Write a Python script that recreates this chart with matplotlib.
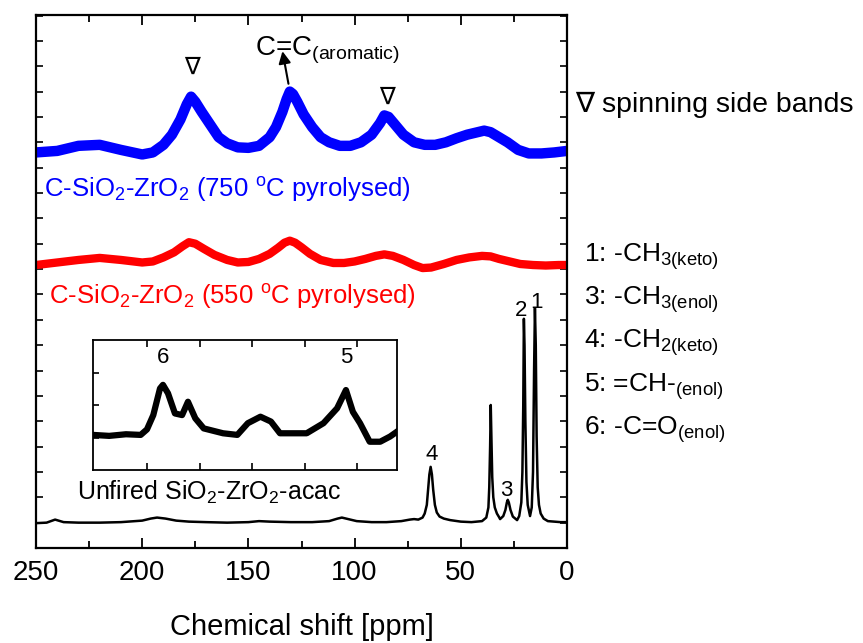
import numpy as np
import matplotlib.pyplot as plt

plt.rcParams['font.family'] = ['Liberation Sans', 'DejaVu Sans']
plt.rcParams['mathtext.fontset'] = 'custom'
plt.rcParams['mathtext.rm'] = 'Liberation Sans'
plt.rcParams['mathtext.it'] = 'Liberation Sans:italic'

# C-SiO2-ZrO2 pyrolysed at 750 C (blue), offset spectrum
ppm_750 = [250, 240, 230, 220, 210, 200, 195, 190, 186, 182, 179, 177, 175, 172, 168, 164,
           160, 155, 150, 145, 140, 137, 134, 132, 130.5, 129, 127, 124, 120, 116, 112, 107,
           102, 97, 92, 88, 86, 84, 81, 77, 72, 67, 62, 57, 52, 47, 42, 39, 36, 32, 28, 23,
           18, 12, 6, 0]
int_750 = [78.0, 78.3, 79.3, 79.5, 78.5, 77.6, 78.0, 79.5, 81.5, 84.5, 87.5, 89.0, 88.0, 86.0,
           83.5, 81.0, 79.8, 79.0, 78.9, 79.3, 81.0, 83.0, 86.0, 88.5, 90.0, 89.5, 88.0, 85.5,
           83.0, 81.0, 80.0, 79.3, 79.3, 80.0, 81.5, 83.8, 85.3, 85.0, 83.5, 81.5, 80.0, 79.5,
           79.5, 80.0, 80.8, 81.5, 82.0, 82.3, 82.0, 81.0, 80.0, 78.5, 77.8, 77.8, 78.0, 78.3]

# pyrolysed at 550 C (red)
ppm_550 = [250, 240, 230, 220, 210, 200, 195, 190, 185, 181, 178, 175, 171, 166, 160, 155,
           150, 145, 140, 136, 133, 130.5, 128, 125, 121, 116, 110, 105, 100, 95, 90, 86, 82,
           77, 72, 68, 64, 58, 52, 46, 40, 36, 32, 27, 22, 16, 10, 4, 0]
int_550 = [55.8, 56.3, 56.8, 57.2, 56.8, 56.3, 56.5, 57.3, 58.3, 59.5, 60.3, 60.0, 59.0, 57.8,
           56.8, 56.3, 56.4, 57.0, 58.0, 59.2, 60.2, 60.6, 60.2, 59.3, 58.0, 56.8, 56.2, 56.2,
           56.5, 57.0, 57.6, 57.9, 57.6, 56.8, 55.8, 55.2, 55.3, 56.0, 56.8, 57.3, 57.6, 57.5,
           57.0, 56.5, 56.0, 55.8, 55.7, 55.8, 55.8]

# unfired SiO2-ZrO2-acac (black)
ppm_raw = [250, 245, 241, 237, 230, 220, 210, 200, 196, 193, 189, 184, 178, 170, 160, 150,
           145, 140, 130, 120, 112, 108, 106, 103, 99, 92, 85, 78, 74, 72, 70, 68, 67, 66,
           65.5, 64.8, 64.2, 63.6, 63.0, 62.2, 61.3, 60, 58, 55, 50, 45, 40, 38, 37, 36.6,
           36.2, 35.9, 35.6, 35.2, 34.7, 34, 33, 32, 31.5, 30, 29, 28.3, 27.9, 27.4, 26.6,
           25.5, 23.5, 22.5, 21.5, 21, 20.6, 20.3, 20, 19.6, 19.1, 18.5, 17.4, 16.6, 16, 15.5,
           15.1, 14.7, 14.3, 13.8, 13.2, 12.4, 11, 9, 6, 3, 0]
int_raw = [4.9, 5.0, 5.6, 5.1, 5.0, 5.0, 5.1, 5.4, 5.8, 6.0, 5.8, 5.4, 5.2, 5.1, 5.0, 5.1,
           5.3, 5.2, 5.1, 5.1, 5.3, 5.8, 6.0, 5.7, 5.3, 5.1, 5.1, 5.3, 5.6, 5.7, 5.6, 6.0, 6.8,
           8.5, 11.0, 14.5, 16.0, 14.5, 11.5, 8.5, 7.0, 6.2, 5.8, 5.5, 5.2, 5.1, 5.3, 6.0,
           8.0, 12.0, 20.0, 28.2, 22.0, 14.0, 10.0, 8.0, 6.8, 6.1, 5.7, 6.3, 7.5, 9.0, 9.5,
           9.0, 7.5, 6.2, 5.5, 6.3, 9.0, 15.0, 28.0, 45.2, 40.0, 25.0, 13.0, 8.5, 6.3, 8.0,
           15.0, 35.0, 47.3, 40.0, 22.0, 12.0, 8.5, 6.8, 5.8, 5.3, 5.2, 5.1, 5.1]

# inset: enlarged 225-81 ppm region of unfired sample
ppm_ins = [225.7, 218, 210, 203, 200, 197, 193.8, 192.4, 190, 186.7, 183.3, 180.5, 177, 173,
           163.8, 157, 152, 146, 141, 136.7, 124, 116, 109.5, 105.3, 102, 98.6, 94, 89, 84.3, 81]
int_ins = [1.08, 1.05, 1.10, 1.08, 1.25, 1.69, 2.51, 2.62, 2.36, 1.74, 1.69, 2.10, 1.59, 1.28,
           1.13, 1.08, 1.44, 1.64, 1.49, 1.13, 1.13, 1.44, 1.90, 2.46, 1.79, 1.44, 0.87, 0.87,
           1.03, 1.18]

assign_labels = [r'1: -CH$_{\mathregular{3(keto)}}$', r'3: -CH$_{\mathregular{3(enol)}}$',
                 r'4: -CH$_{\mathregular{2(keto)}}$', r'5: =CH-$_{\mathregular{(enol)}}$',
                 r'6: -C=O$_{\mathregular{(enol)}}$']

W, H = 863, 643
fig = plt.figure(figsize=(W / 100, H / 100), dpi=100)
ax = fig.add_axes([36 / W, 95 / H, 531 / W, 533 / H])

ax.plot(ppm_750, int_750, color='#0000FF', lw=7.5, solid_joinstyle='round')
ax.plot(ppm_550, int_550, color='#FF0000', lw=6.0, solid_joinstyle='round')
ax.plot(ppm_raw, int_raw, color='black', lw=1.8)

ax.set_xlim(250, 0)
ax.set_ylim(0, 105.1)
ax.set_xticks(np.arange(0, 251, 50))
ax.set_xticks(np.arange(25, 250, 50), minor=True)
ax.set_yticks(np.arange(0, 106, 5))
ax.set_yticklabels([])
ax.tick_params(axis='x', which='both', direction='in', top=True, labelsize=20, pad=9)
ax.tick_params(axis='x', which='major', length=7, width=1.3)
ax.tick_params(axis='x', which='minor', length=5, width=1.3)
ax.tick_params(axis='y', direction='in', left=True, right=True, length=5, width=1.2)
for s in ax.spines.values():
    s.set_linewidth(1.6)
ax.set_xlabel('Chemical shift [ppm]', fontsize=21, labelpad=19)

sub2 = r'$_{\mathregular{2}}$'
ax.text(246.2, 69.2, 'C-SiO' + sub2 + '-ZrO' + sub2 + r' (750 $^{\mathregular{o}}$C pyrolysed)',
        color='#0000FF', fontsize=18.5, va='baseline')
ax.text(243.9, 48.1, 'C-SiO' + sub2 + '-ZrO' + sub2 + r' (550 $^{\mathregular{o}}$C pyrolysed)',
        color='#FF0000', fontsize=18.5, va='baseline')
ax.text(230.7, 9.5, 'Unfired SiO' + sub2 + '-ZrO' + sub2 + '-acac', fontsize=18, va='baseline')

# peak numbers
ax.text(63.9, 18.5, '4', fontsize=16, ha='center', va='center')
ax.text(28.5, 11.3, '3', fontsize=16, ha='center', va='center')
ax.text(21.5, 46.8, '2', fontsize=16, ha='center', va='center')
ax.text(14.5, 48.5, '1', fontsize=16, ha='center', va='center')

# spinning side band markers
ax.text(176.7, 94.6, '\u2207', fontsize=17, ha='center', va='center')
ax.text(84.7, 88.8, '\u2207', fontsize=17, ha='center', va='center')

ax.annotate('', xy=(134.2, 98.5), xytext=(130.9, 91.0),
            arrowprops=dict(arrowstyle='-|>', color='black', lw=1.5, mutation_scale=18))
ax.text(146.9, 97.2, r'C=C$_{\mathregular{(aromatic)}}$', fontsize=20, va='baseline')

# inset
axi = fig.add_axes([93 / W, (H - 470) / H, 304 / W, 130 / H])
axi.plot(ppm_ins, int_ins, color='black', lw=4.5, solid_joinstyle='round')
axi.set_xlim(225.7, 81)
axi.set_ylim(0, 4)
axi.set_xticks([200, 175, 150, 125, 100])
axi.set_yticks([1, 2, 3])
axi.set_xticklabels([])
axi.set_yticklabels([])
axi.tick_params(axis='x', direction='in', top=True, length=5, width=1.2)
axi.tick_params(axis='y', direction='in', length=4, width=1.2)
for s in axi.spines.values():
    s.set_linewidth(1.3)
axi.text(192.4, 3.45, '6', fontsize=16, ha='center', va='center')
axi.text(105.0, 3.45, '5', fontsize=16, ha='center', va='center')

# text outside the axes
fig.text(575 / W, 1 - 111.7 / H, '\u2207 spinning side bands', fontsize=20.5, va='baseline')
for i, lab in enumerate(assign_labels):
    fig.text(584 / W, 1 - (261.7 + 43.3 * i) / H, lab, fontsize=19, va='baseline')

fig.savefig('out.png', dpi=100)
